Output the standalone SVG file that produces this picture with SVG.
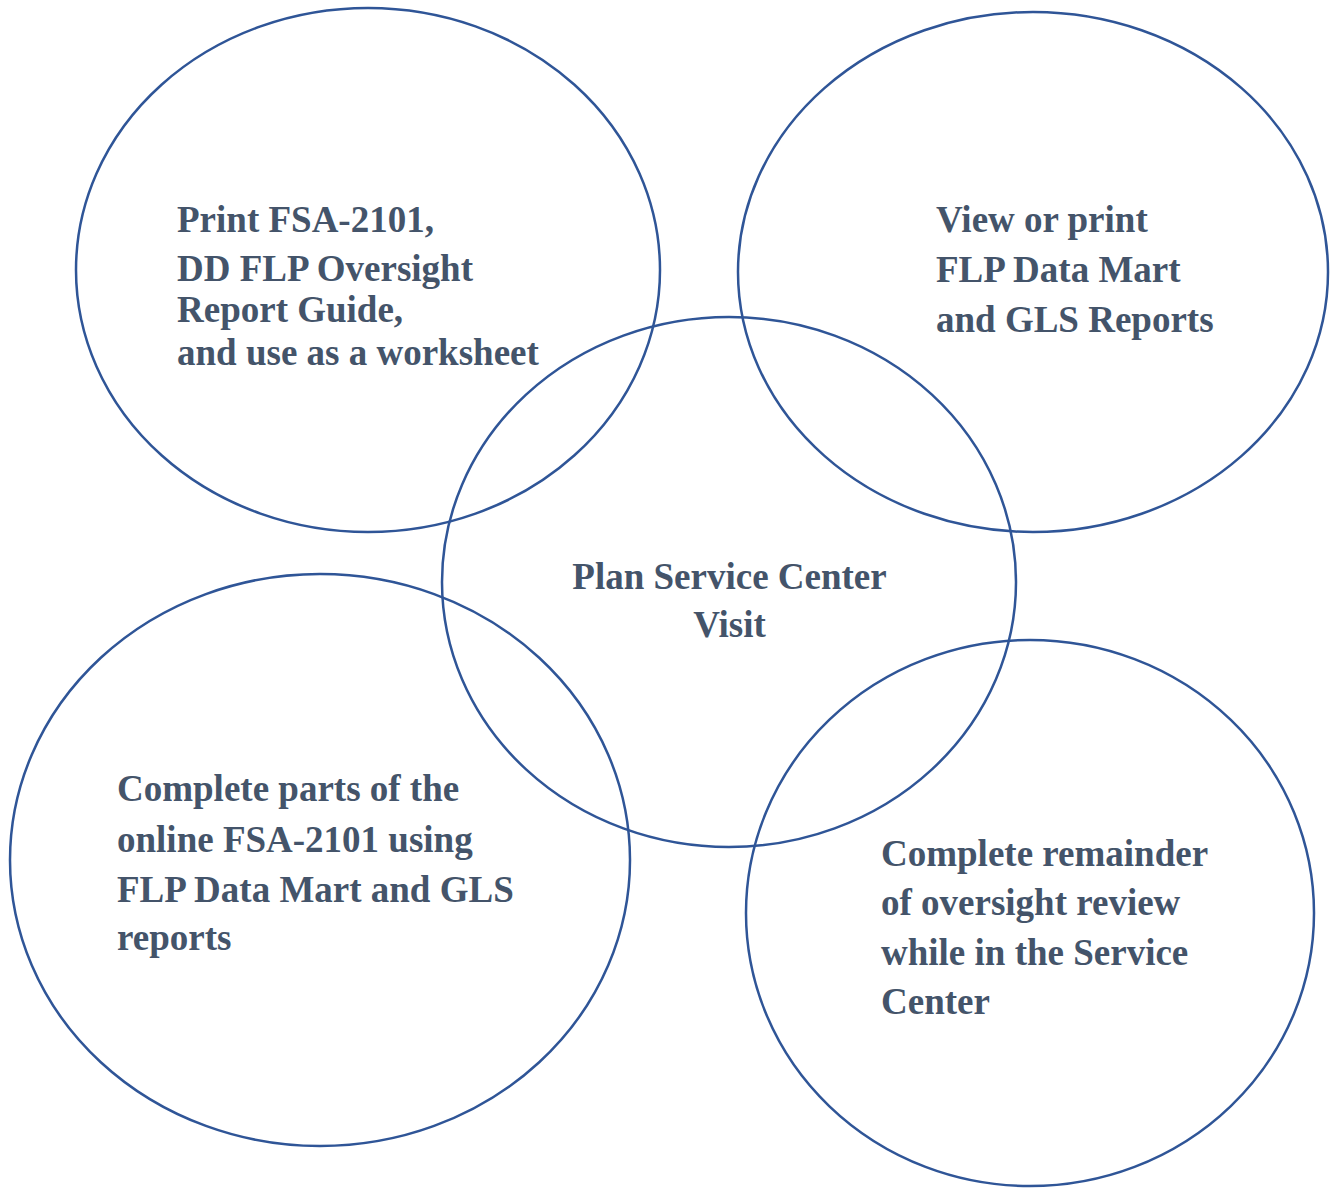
<svg xmlns="http://www.w3.org/2000/svg" width="1330" height="1188" viewBox="0 0 1330 1188">
<style>
.c{fill:none;stroke:#2F5597;stroke-width:2.5}
.t{font-family:"Liberation Serif","Times New Roman",serif;font-weight:bold;font-size:37px;fill:#44546A}
</style>
<rect width="1330" height="1188" fill="#fff"/>
<g id="connectors"/>
<g id="node-print">
<ellipse class="c" cx="368" cy="270" rx="292" ry="262"/>
<text class="t" x="177"><tspan x="177" y="232">Print FSA-2101,</tspan><tspan x="177" y="281">DD FLP Oversight</tspan><tspan x="177" y="322">Report Guide,</tspan><tspan x="177" y="365">and use as a worksheet</tspan></text>
</g>
<g id="node-view">
<ellipse class="c" cx="1033" cy="272" rx="295" ry="260"/>
<text class="t"><tspan x="936" y="232">View or print</tspan><tspan x="936" y="282">FLP Data Mart</tspan><tspan x="936" y="332">and GLS Reports</tspan></text>
</g>
<g id="node-complete-parts">
<ellipse class="c" cx="320" cy="860" rx="310" ry="286"/>
<text class="t"><tspan x="117" y="801">Complete parts of the</tspan><tspan x="117" y="852">online FSA-2101 using</tspan><tspan x="117" y="902">FLP Data Mart and GLS</tspan><tspan x="117" y="950">reports</tspan></text>
</g>
<g id="node-remainder">
<ellipse class="c" cx="1030" cy="913" rx="284" ry="273"/>
<text class="t"><tspan x="881" y="866">Complete remainder</tspan><tspan x="881" y="915">of oversight review</tspan><tspan x="881" y="965">while in the Service</tspan><tspan x="881" y="1014">Center</tspan></text>
</g>
<g id="node-plan">
<ellipse class="c" cx="729" cy="582" rx="287" ry="265"/>
<text class="t" text-anchor="middle"><tspan x="729.5" y="589">Plan Service Center</tspan><tspan x="729.5" y="637">Visit</tspan></text>
</g>
</svg>
